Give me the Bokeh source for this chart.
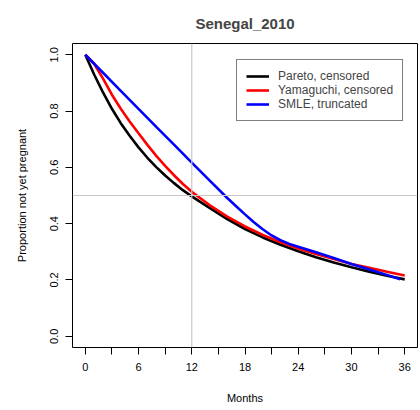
import math
from bokeh.plotting import figure
from bokeh.models import Span, Legend, LegendItem, FixedTicker, Range1d
from bokeh.embed import file_html
from bokeh.resources import INLINE

title = "Senegal_2010"
x_label = "Months"
y_label = "Proportion not yet pregnant"

pareto_months = [0, 1, 2, 3, 4, 5, 6, 7, 8, 9, 10, 11, 12, 14, 16, 18, 20, 22, 24, 26, 28, 30, 32, 34, 36]
pareto_values = [1.000, 0.930, 0.866, 0.808, 0.757, 0.712, 0.671, 0.634, 0.601, 0.571, 0.544, 0.519, 0.497,
                 0.456, 0.416, 0.381, 0.351, 0.325, 0.302, 0.281, 0.262, 0.245, 0.229, 0.215, 0.202]

yamaguchi_months = [0, 1, 2, 3, 4, 5, 6, 7, 8, 9, 10, 11, 12, 14, 16, 18, 20, 22, 24, 26, 28, 30, 32, 34, 36]
yamaguchi_values = [1.000, 0.968, 0.915, 0.858, 0.808, 0.763, 0.721, 0.680, 0.641, 0.605, 0.572, 0.541, 0.513,
                    0.466, 0.425, 0.390, 0.360, 0.334, 0.312, 0.292, 0.274, 0.257, 0.243, 0.229, 0.216]

smle_months = [0, 2, 4, 6, 8, 10, 12, 14, 16, 17, 18, 19, 20, 21, 22, 23, 24, 25, 26, 28, 30, 32, 34, 35.5]
smle_values = [1.000, 0.936, 0.872, 0.808, 0.744, 0.681, 0.617, 0.554, 0.491, 0.462, 0.433, 0.405, 0.380,
               0.358, 0.341, 0.328, 0.318, 0.308, 0.298, 0.278, 0.257, 0.237, 0.218, 0.202]

series_names = ["Pareto, censored", "Yamaguchi, censored", "SMLE, truncated"]
series_colors = ["black", "red", "blue"]

x_ticks = [0, 3, 6, 9, 12, 15, 18, 21, 24, 27, 30, 33, 36]
x_tick_labels = ["0", "", "6", "", "12", "", "18", "", "24", "", "30", "", "36"]
y_ticks = [0.0, 0.2, 0.4, 0.6, 0.8, 1.0]
y_tick_labels = ["0.0", "0.2", "0.4", "0.6", "0.8", "1.0"]
ref_month = 12
ref_prop = 0.5

FONT = "Liberation Sans"

p = figure(width=420, height=410, output_backend="svg", toolbar_location=None,
           x_range=Range1d(-1.44, 37.44), y_range=Range1d(-0.04, 1.04),
           min_border_left=72, min_border_right=3, min_border_top=43, min_border_bottom=63)
p.background_fill_color = "white"
p.border_fill_color = "white"
p.outline_line_color = "black"
p.outline_line_width = 1
p.grid.visible = False

p.title.text = title
p.title.text_font = FONT
p.title.text_font_size = "15px"
p.title.text_font_style = "bold"
p.title.text_line_height = 1.0
p.title.align = "center"
p.title.offset = 0
p.title.standoff = 24

for ax in (p.xaxis[0], p.yaxis[0]):
    ax.axis_line_color = None
    ax.major_tick_in = 0
    ax.major_tick_out = 7
    ax.minor_tick_line_color = None
    ax.major_tick_line_color = "black"
    ax.major_label_text_font = FONT
    ax.major_label_text_font_size = "11px"
    ax.major_label_text_color = "black"
    ax.axis_label_text_font = FONT
    ax.axis_label_text_font_size = "11px"
    ax.axis_label_text_font_style = "normal"
    ax.axis_label_text_color = "black"

p.xaxis.ticker = FixedTicker(ticks=x_ticks)
p.xaxis.major_label_overrides = {t: l for t, l in zip(x_ticks, x_tick_labels)}
p.xaxis.axis_label = x_label
p.xaxis.major_label_standoff = 8
p.xaxis.axis_label_standoff = 18

p.yaxis.ticker = FixedTicker(ticks=y_ticks)
p.yaxis.major_label_overrides = {t: l for t, l in zip(y_ticks, y_tick_labels)}
p.yaxis.major_label_orientation = "parallel"
p.yaxis.axis_label = y_label
p.yaxis.major_label_standoff = 7
p.yaxis.axis_label_standoff = 20

p.add_layout(Span(location=ref_month, dimension="height", line_color="#c8c8c8", line_width=1.2))
p.add_layout(Span(location=ref_prop, dimension="width", line_color="#c8c8c8", line_width=1.2))

renderers = []
for xs, ys, c in [(pareto_months, pareto_values, series_colors[0]),
                  (yamaguchi_months, yamaguchi_values, series_colors[1]),
                  (smle_months, smle_values, series_colors[2])]:
    r = p.line(xs, ys, line_color=c, line_width=2.6)
    renderers.append(r)

legend = Legend(items=[LegendItem(label=n, renderers=[r]) for n, r in zip(series_names, renderers)],
                location=(164, 226))
legend.label_text_font = FONT
legend.label_text_font_size = "12px"
legend.glyph_width = 23
legend.glyph_height = 14
legend.label_height = 14
legend.label_standoff = 9
legend.spacing = 0
legend.padding = 9
legend.margin = 0
legend.border_line_color = "black"
legend.border_line_width = 1
legend.background_fill_alpha = 1
p.add_layout(legend)

open("out.html", "w").write(file_html(p, INLINE))
